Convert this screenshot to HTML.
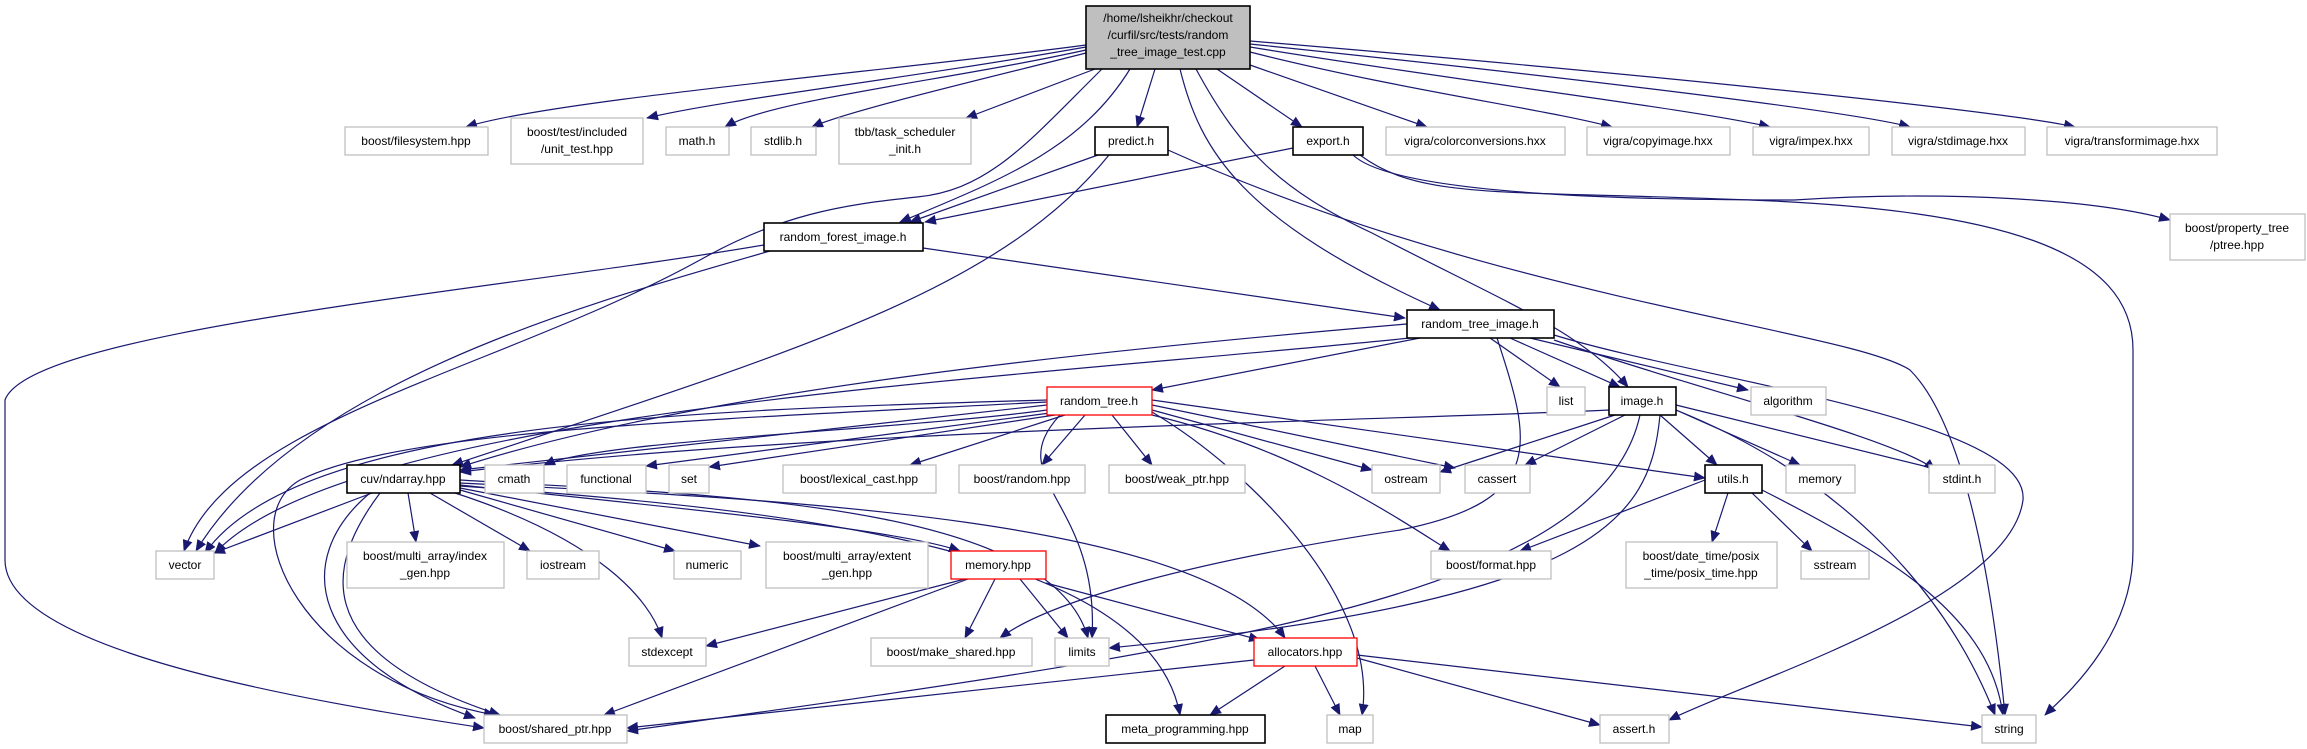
<!DOCTYPE html>
<html><head><meta charset="utf-8"><style>
html,body{margin:0;padding:0;background:#fff}
svg{display:block}
text{font-family:"Liberation Sans",sans-serif;font-size:12px;fill:#000}
.g{fill:#fff;stroke:#bfbfbf;stroke-width:1.3}
.b{fill:#fff;stroke:#000;stroke-width:1.6}
.r{fill:#fff;stroke:#ff0000;stroke-width:1.3}
path.e{fill:none;stroke:#191970;stroke-width:1.2}
</style></head><body>
<svg width="2307" height="749" viewBox="0 0 2307 749" xmlns="http://www.w3.org/2000/svg">
<defs><marker id="a" markerWidth="12" markerHeight="10" refX="11" refY="5" orient="auto" markerUnits="userSpaceOnUse"><path d="M0,0 L12,5 L0,10 z" fill="#191970"/></marker></defs>
<g marker-end="url(#a)">
<!-- root -->
<path class="e" d="M1086,45 C900,70 550,100 466,127"/>
<path class="e" d="M1086,47 C900,80 720,100 647,118"/>
<path class="e" d="M1086,50 C950,80 770,100 725,127"/>
<path class="e" d="M1086,53 C1000,75 850,110 812,127"/>
<path class="e" d="M1095,69 L966,118"/>
<path class="e" d="M1102,69 C1030,140 990,190 917,197 C840,205 780,215 700,260 C500,370 230,420 184,551"/>
<path class="e" d="M1130,69 C1080,150 1000,180 900,222"/>
<path class="e" d="M1155,69 L1137,127"/>
<path class="e" d="M1180,69 C1200,150 1240,220 1440,310"/>
<path class="e" d="M1196,69 C1240,150 1280,190 1372,233 C1500,300 1580,330 1628,387"/>
<path class="e" d="M1217,69 L1302,127"/>
<path class="e" d="M1250,65 L1427,127"/>
<path class="e" d="M1250,52 C1400,90 1550,110 1612,127"/>
<path class="e" d="M1250,47 C1450,80 1700,110 1770,127"/>
<path class="e" d="M1250,44 C1500,70 1850,110 1910,127"/>
<path class="e" d="M1250,41 C1600,70 2000,110 2075,127"/>
<!-- predict -->
<path class="e" d="M1098,155 L910,222"/>
<path class="e" d="M1109,155 C1000,290 800,350 452,465"/>
<path class="e" d="M1168,150 C1500,300 1850,330 1910,370 C1960,420 1990,560 2005,715"/>
<!-- export -->
<path class="e" d="M1293,148 L925,222"/>
<path class="e" d="M1353,155 C1400,200 1700,200 1794,200 C1950,190 2100,200 2170,220"/>
<path class="e" d="M1360,155 C1420,200 1500,190 1750,200 C2000,210 2133,250 2133,350 L2133,550 C2133,640 2060,700 2045,715"/>
<!-- rfi -->
<path class="e" d="M764,245 C500,290 30,330 5,400 L5,560 C5,650 300,700 484,728"/>
<path class="e" d="M770,251 C600,300 300,380 196,551"/>
<path class="e" d="M923,248 L1405,318"/>
<!-- rti -->
<path class="e" d="M1407,324 C1100,350 700,390 460,467"/>
<path class="e" d="M1410,338 C1000,380 350,410 215,553"/>
<path class="e" d="M1420,338 L1152,390"/>
<path class="e" d="M1490,338 L1560,387"/>
<path class="e" d="M1510,338 L1620,387"/>
<path class="e" d="M1530,338 L1748,390"/>
<path class="e" d="M1554,340 C1700,390 1900,440 1935,470"/>
<path class="e" d="M1497,338 C1530,440 1550,500 1400,530 C1200,560 1050,600 1000,638"/>
<path class="e" d="M1554,335 C1700,380 2030,420 2023,500 C2010,600 1750,680 1669,720"/>
<!-- rt -->
<path class="e" d="M1047,405 L460,470"/>
<path class="e" d="M1047,410 C900,430 600,440 544,465"/>
<path class="e" d="M1050,413 L646,466"/>
<path class="e" d="M1055,415 L709,467"/>
<path class="e" d="M1065,415 L910,465"/>
<path class="e" d="M1085,415 L1042,465"/>
<path class="e" d="M1112,415 L1152,465"/>
<path class="e" d="M1152,410 L1372,470"/>
<path class="e" d="M1152,405 L1455,468"/>
<path class="e" d="M1152,400 L1705,478"/>
<path class="e" d="M1152,415 C1300,450 1400,520 1450,551"/>
<path class="e" d="M1152,412 C1250,470 1380,600 1362,715"/>
<path class="e" d="M1047,400 C700,410 300,420 205,553"/>
<path class="e" d="M1047,402 C700,420 400,430 300,480 C230,520 300,680 495,715"/>
<path class="e" d="M1060,415 C1000,480 1100,500 1092,638"/>
<!-- image.h -->
<path class="e" d="M1609,410 C1400,420 800,430 460,472"/>
<path class="e" d="M1615,415 L1440,472"/>
<path class="e" d="M1625,415 L1525,465"/>
<path class="e" d="M1660,415 L1717,465"/>
<path class="e" d="M1676,410 L1800,465"/>
<path class="e" d="M1676,405 L1940,470"/>
<path class="e" d="M1676,410 C1850,480 1950,600 1995,715"/>
<path class="e" d="M1640,415 C1600,600 1200,650 627,731"/>
<path class="e" d="M1660,415 C1650,520 1600,600 1109,648"/>
<!-- utils -->
<path class="e" d="M1705,480 L1520,551"/>
<path class="e" d="M1728,493 L1712,542"/>
<path class="e" d="M1752,493 L1812,551"/>
<path class="e" d="M1762,490 C1900,560 1990,620 2003,715"/>
<!-- nd -->
<path class="e" d="M372,493 L214,553"/>
<path class="e" d="M380,493 C330,560 300,650 500,715"/>
<path class="e" d="M370,493 C290,560 310,660 475,718"/>
<path class="e" d="M408,493 L416,542"/>
<path class="e" d="M430,493 L530,551"/>
<path class="e" d="M460,490 L675,551"/>
<path class="e" d="M460,488 L760,546"/>
<path class="e" d="M460,485 C700,510 900,530 960,551"/>
<path class="e" d="M455,493 C600,540 650,600 662,638"/>
<path class="e" d="M460,480 C700,495 1050,500 1088,638"/>
<path class="e" d="M460,483 C800,500 1200,520 1285,638"/>
<path class="e" d="M460,486 C800,510 1150,550 1180,715"/>
<!-- memory.hpp -->
<path class="e" d="M965,579 L706,646"/>
<path class="e" d="M968,579 L604,715"/>
<path class="e" d="M995,579 L965,638"/>
<path class="e" d="M1020,579 L1068,638"/>
<path class="e" d="M1046,583 L1260,640"/>
<!-- allocators -->
<path class="e" d="M1254,660 L627,728"/>
<path class="e" d="M1285,666 L1210,715"/>
<path class="e" d="M1315,666 L1340,715"/>
<path class="e" d="M1357,658 L1600,725"/>
<path class="e" d="M1357,655 L1982,727"/>
</g>
<!-- nodes -->
<rect x="1086" y="6" width="164" height="63" fill="#bfbfbf" stroke="#000" stroke-width="1.6"/>
<text x="1168" y="22" text-anchor="middle">/home/lsheikhr/checkout</text>
<text x="1168" y="39" text-anchor="middle">/curfil/src/tests/random</text>
<text x="1168" y="56" text-anchor="middle">_tree_image_test.cpp</text>
<g text-anchor="middle">
<rect class="g" x="345" y="127" width="143" height="28"/><text x="416" y="145">boost/filesystem.hpp</text>
<rect class="g" x="511" y="118" width="132" height="46"/><text x="577" y="136">boost/test/included</text><text x="577" y="153">/unit_test.hpp</text>
<rect class="g" x="666" y="127" width="63" height="28"/><text x="697" y="145">math.h</text>
<rect class="g" x="751" y="127" width="65" height="28"/><text x="783" y="145">stdlib.h</text>
<rect class="g" x="839" y="118" width="132" height="46"/><text x="905" y="136">tbb/task_scheduler</text><text x="905" y="153">_init.h</text>
<rect class="b" x="1095" y="127" width="73" height="28"/><text x="1131" y="145">predict.h</text>
<rect class="b" x="1293" y="127" width="70" height="28"/><text x="1328" y="145">export.h</text>
<rect class="g" x="1386" y="127" width="179" height="28"/><text x="1475" y="145">vigra/colorconversions.hxx</text>
<rect class="g" x="1587" y="127" width="143" height="28"/><text x="1658" y="145">vigra/copyimage.hxx</text>
<rect class="g" x="1753" y="127" width="116" height="28"/><text x="1811" y="145">vigra/impex.hxx</text>
<rect class="g" x="1892" y="127" width="133" height="28"/><text x="1958" y="145">vigra/stdimage.hxx</text>
<rect class="g" x="2047" y="127" width="170" height="28"/><text x="2132" y="145">vigra/transformimage.hxx</text>
<rect class="g" x="2170" y="214" width="135" height="46"/><text x="2237" y="232">boost/property_tree</text><text x="2237" y="249">/ptree.hpp</text>
<rect class="b" x="764" y="223" width="159" height="28"/><text x="843" y="241">random_forest_image.h</text>
<rect class="b" x="1407" y="310" width="147" height="28"/><text x="1480" y="328">random_tree_image.h</text>
<rect class="r" x="1047" y="387" width="105" height="28"/><text x="1099" y="405">random_tree.h</text>
<rect class="g" x="1547" y="387" width="38" height="28"/><text x="1566" y="405">list</text>
<rect class="b" x="1609" y="387" width="67" height="28"/><text x="1642" y="405">image.h</text>
<rect class="g" x="1751" y="387" width="75" height="28"/><text x="1788" y="405">algorithm</text>
<rect class="b" x="347" y="465" width="113" height="28"/><text x="403" y="483">cuv/ndarray.hpp</text>
<rect class="g" x="485" y="465" width="59" height="28"/><text x="514" y="483">cmath</text>
<rect class="g" x="567" y="465" width="79" height="28"/><text x="606" y="483">functional</text>
<rect class="g" x="669" y="465" width="40" height="28"/><text x="689" y="483">set</text>
<rect class="g" x="783" y="465" width="153" height="28"/><text x="859" y="483">boost/lexical_cast.hpp</text>
<rect class="g" x="959" y="465" width="126" height="28"/><text x="1022" y="483">boost/random.hpp</text>
<rect class="g" x="1109" y="465" width="136" height="28"/><text x="1177" y="483">boost/weak_ptr.hpp</text>
<rect class="g" x="1372" y="465" width="68" height="28"/><text x="1406" y="483">ostream</text>
<rect class="g" x="1465" y="465" width="65" height="28"/><text x="1497" y="483">cassert</text>
<rect class="b" x="1705" y="465" width="57" height="28"/><text x="1733" y="483">utils.h</text>
<rect class="g" x="1786" y="465" width="69" height="28"/><text x="1820" y="483">memory</text>
<rect class="g" x="1929" y="465" width="66" height="28"/><text x="1962" y="483">stdint.h</text>
<rect class="g" x="156" y="551" width="58" height="28"/><text x="185" y="569">vector</text>
<rect class="g" x="347" y="542" width="157" height="46"/><text x="425" y="560">boost/multi_array/index</text><text x="425" y="577">_gen.hpp</text>
<rect class="g" x="527" y="551" width="72" height="28"/><text x="563" y="569">iostream</text>
<rect class="g" x="674" y="551" width="67" height="28"/><text x="707" y="569">numeric</text>
<rect class="g" x="766" y="542" width="162" height="46"/><text x="847" y="560">boost/multi_array/extent</text><text x="847" y="577">_gen.hpp</text>
<rect class="r" x="951" y="551" width="95" height="28"/><text x="998" y="569">memory.hpp</text>
<rect class="g" x="1431" y="551" width="120" height="28"/><text x="1491" y="569">boost/format.hpp</text>
<rect class="g" x="1626" y="542" width="151" height="46"/><text x="1701" y="560">boost/date_time/posix</text><text x="1701" y="577">_time/posix_time.hpp</text>
<rect class="g" x="1801" y="551" width="68" height="28"/><text x="1835" y="569">sstream</text>
<rect class="g" x="629" y="638" width="77" height="28"/><text x="667" y="656">stdexcept</text>
<rect class="g" x="871" y="638" width="161" height="28"/><text x="951" y="656">boost/make_shared.hpp</text>
<rect class="g" x="1055" y="638" width="54" height="28"/><text x="1082" y="656">limits</text>
<rect class="r" x="1254" y="638" width="103" height="28"/><text x="1305" y="656">allocators.hpp</text>
<rect class="g" x="484" y="715" width="143" height="28"/><text x="555" y="733">boost/shared_ptr.hpp</text>
<rect class="b" x="1106" y="715" width="159" height="28"/><text x="1185" y="733">meta_programming.hpp</text>
<rect class="g" x="1327" y="715" width="46" height="28"/><text x="1350" y="733">map</text>
<rect class="g" x="1600" y="715" width="69" height="28"/><text x="1634" y="733">assert.h</text>
<rect class="g" x="1982" y="715" width="54" height="28"/><text x="2009" y="733">string</text>
</g>
</svg>
</body></html>
